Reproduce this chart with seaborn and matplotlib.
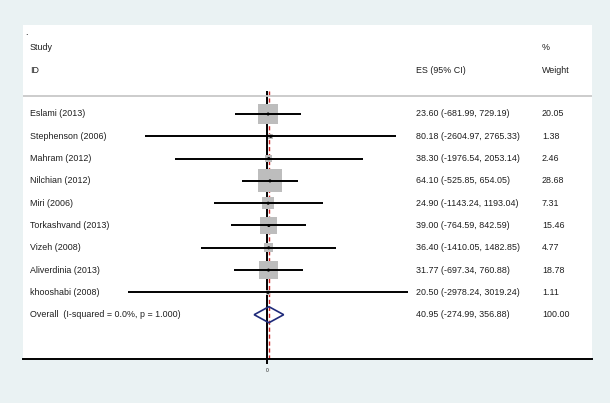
import numpy as np
import pandas as pd
import matplotlib
matplotlib.use("Agg")
import matplotlib.pyplot as plt
import seaborn as sns
from matplotlib.patches import Polygon
import matplotlib.transforms as mtransforms

# ---- data ----
studies = ["Eslami (2013)", "Stephenson (2006)", "Mahram (2012)", "Nilchian (2012)",
           "Miri (2006)", "Torkashvand (2013)", "Vizeh (2008)", "Aliverdinia (2013)",
           "khooshabi (2008)"]
es = [23.60, 80.18, 38.30, 64.10, 24.90, 39.00, 36.40, 31.77, 20.50]
lo = [-681.99, -2604.97, -1976.54, -525.85, -1143.24, -764.59, -1410.05, -697.34, -2978.24]
hi = [729.19, 2765.33, 2053.14, 654.05, 1193.04, 842.59, 1482.85, 760.88, 3019.24]
weights = [20.05, 1.38, 2.46, 28.68, 7.31, 15.46, 4.77, 18.78, 1.11]
overall_label = "Overall  (I-squared = 0.0%, p = 1.000)"
overall_es, overall_lo, overall_hi, overall_w = 40.95, -274.99, 356.88, 100.00
xticks = [0]
xtick_labels = ["0"]

df = pd.DataFrame({"study": studies, "es": es, "lo": lo, "hi": hi, "w": weights})
df["row"] = np.arange(len(df))
overall_row = len(df)

# ---- style ----
sns.set_theme(style="white")
plt.rcParams["font.family"] = ["Liberation Sans", "DejaVu Sans"]
BG = "#EAF2F3"
TXT = "#1e1e1e"
FS = 6.4

fig = plt.figure(figsize=(6.10, 4.03), dpi=100, facecolor=BG)
W, H = 610, 403
left_px, right_px, top_px, bot_px = 23, 592, 25, 359
ax = fig.add_axes([left_px / W, 1 - bot_px / H, (right_px - left_px) / W, (bot_px - top_px) / H])
ax.set_facecolor("white")

# x scale: 0.0467 px per unit, zero at pixel 267
ppu = 0.0467
zero_px = 267
ax.set_xlim((left_px - zero_px) / ppu, (right_px - zero_px) / ppu)
# y scale: row i at pixel 114 + 22.3*i
r0, dr = 114, 22.3
ax.set_ylim((bot_px - r0) / dr, (top_px - r0) / dr)

def ypix(p):
    return (p - r0) / dr

# CI lines
ax.hlines(df["row"], df["lo"], df["hi"], color="black", lw=1.4, zorder=3)

# weight boxes (area proportional to weight)
k = 4.3 * 0.72  # side in points per sqrt(weight)
wmin, wmax = min(weights), max(weights)
sns.scatterplot(data=df, x="es", y="row", size="w", sizes=(k * k * wmin, k * k * wmax),
                size_norm=(wmin, wmax), marker="s", color="#bdbdbd", edgecolor="none",
                linewidth=0, legend=False, ax=ax, zorder=2)
# centre points
sns.scatterplot(data=df, x="es", y="row", marker="o", color="black", s=5,
                edgecolor="none", linewidth=0, legend=False, ax=ax, zorder=4)

# overall diamond
dh = 0.36
diamond = Polygon([[overall_lo, overall_row], [overall_es, overall_row - dh],
                   [overall_hi, overall_row], [overall_es, overall_row + dh]],
                  closed=True, fill=False, edgecolor="#1f2a7a", lw=1.2, zorder=5)
ax.add_patch(diamond)

# null line and overall line
ytop = ypix(91)
ax.vlines(0, ytop, ax.get_ylim()[0], color="black", lw=1.4, zorder=1)
ax.vlines(overall_es, ytop, ax.get_ylim()[0], color="#cc2222", lw=1.0,
          linestyles=(0, (3, 2)), zorder=1)

# header separator line
ax.axhline(ypix(96), color="#c8c8c8", lw=1.3, zorder=1)

# texts
tr = mtransforms.blended_transform_factory(ax.transAxes, ax.transData)
xs = (30 - left_px) / (right_px - left_px)
xe = (416 - left_px) / (right_px - left_px)
xw = (542 - left_px) / (right_px - left_px)
kw = dict(transform=tr, fontsize=FS, color=TXT, va="center", ha="left")
ax.text((25 - left_px) / (right_px - left_px), ypix(33), ".", **kw)
ax.text(xs, ypix(48), "Study", **kw)
ax.text(xs, ypix(71), "ID", **kw)
ax.text(xe, ypix(71), "ES (95% CI)", **kw)
ax.text(xw, ypix(48), "%", **kw)
ax.text(xw, ypix(71), "Weight", **kw)
for _, r in df.iterrows():
    ax.text(xs, r["row"], r["study"], **kw)
    ax.text(xe, r["row"], f"{r['es']:.2f} ({r['lo']:.2f}, {r['hi']:.2f})", **kw)
    ax.text(xw, r["row"], f"{r['w']:.2f}", **kw)
ax.text(xs, overall_row, overall_label, **kw)
ax.text(xe, overall_row, f"{overall_es:.2f} ({overall_lo:.2f}, {overall_hi:.2f})", **kw)
ax.text(xw, overall_row, f"{overall_w:.2f}", **kw)

# axes styling
for s in ["top", "left", "right"]:
    ax.spines[s].set_visible(False)
ax.spines["bottom"].set_color("black")
ax.spines["bottom"].set_linewidth(1.4)
ax.set_yticks([])
ax.set_xticks(xticks)
ax.set_xticklabels(xtick_labels)
ax.tick_params(axis="x", bottom=True, length=3.8, width=1.4, color="black",
               labelsize=3.5, pad=2.5, labelcolor=TXT)
ax.set_xlabel("")
ax.set_ylabel("")

fig.savefig("out.png", dpi=100, facecolor=BG)
